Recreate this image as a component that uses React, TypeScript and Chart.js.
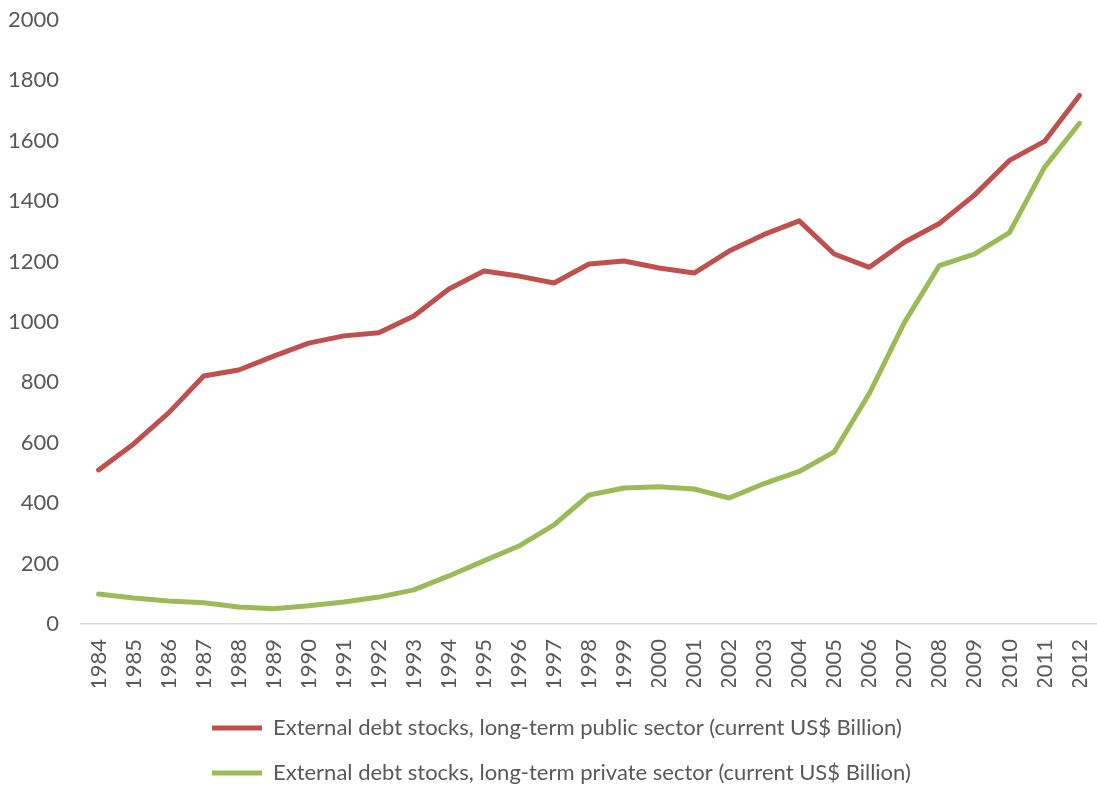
import React, { useEffect, useRef } from "react";
import { Chart, registerables } from "chart.js";

Chart.register(...registerables);

const years = [
  "1984","1985","1986","1987","1988","1989","1990","1991","1992","1993",
  "1994","1995","1996","1997","1998","1999","2000","2001","2002","2003",
  "2004","2005","2006","2007","2008","2009","2010","2011","2012",
];

const publicSector = [
  510, 596, 699, 821, 841, 887, 930, 954, 964, 1020,
  1109, 1169, 1152, 1129, 1192, 1202, 1179, 1162, 1235, 1290,
  1335, 1225, 1181, 1264, 1326, 1420, 1535, 1598, 1750,
];

const privateSector = [
  99, 86, 76, 70, 56, 50, 60, 73, 89, 113,
  159, 209, 258, 328, 427, 450, 454, 447, 417, 465,
  505, 570, 763, 998, 1187, 1225, 1296, 1512, 1658,
];

const seriesNames = [
  "External debt stocks, long-term public sector (current US$ Billion)",
  "External debt stocks, long-term private sector (current US$ Billion)",
];

const yMin = 0;
const yMax = 2000;
const yStep = 200;

const FONT = "Lato, 'Open Sans', sans-serif";
const TEXT = "#595959";

export default function App() {
  const ref = useRef<HTMLCanvasElement | null>(null);

  useEffect(() => {
    document.body.style.margin = "0";
    const canvas = ref.current;
    if (!canvas) return;
    const legendShift = {
      id: "legendShift",
      afterLayout(chart: any) {
        const lg = chart.legend;
        if (lg) {
          lg.top += 7;
          lg.bottom += 7;
          lg.left += 181;
          lg.right += 181;
        }
      },
    };
    const chart = new Chart(canvas, {
      type: "line",
      data: {
        labels: years,
        datasets: [
          {
            label: seriesNames[0],
            data: publicSector,
            borderColor: "#C0504D",
            backgroundColor: "#C0504D",
            borderWidth: 5,
            pointRadius: 0,
            tension: 0,
            borderCapStyle: "round",
            borderJoinStyle: "round",
          },
          {
            label: seriesNames[1],
            data: privateSector,
            borderColor: "#9BBB59",
            backgroundColor: "#9BBB59",
            borderWidth: 5,
            pointRadius: 0,
            tension: 0,
            borderCapStyle: "round",
            borderJoinStyle: "round",
          },
        ],
      },
      options: {
        responsive: false,
        animation: false,
        maintainAspectRatio: false,
        layout: { padding: { top: 20, left: 8, right: 0, bottom: 0 } },
        plugins: {
          tooltip: { enabled: false },
          legend: {
            position: "bottom",
            align: "start",
            labels: {
              color: TEXT,
              font: { family: FONT, size: 22 },
              boxWidth: 50,
              boxHeight: 5,
              padding: 23,
              generateLabels: (c: any) =>
                c.data.datasets.map((ds: any, i: number) => ({
                  text: ds.label,
                  fillStyle: ds.borderColor,
                  strokeStyle: ds.borderColor,
                  lineWidth: 0,
                  hidden: false,
                  datasetIndex: i,
                  fontColor: TEXT,
                })),
            },
          },
        },
        scales: {
          x: {
            offset: true,
            grid: { display: false, drawTicks: false },
            border: { display: true, color: "#D9D9D9", width: 1.5 },
            afterFit: (s: any) => {
              s.paddingLeft = 0;
              s.paddingRight = 0;
              s.height -= 18;
            },
            ticks: {
              color: TEXT,
              font: { family: FONT, size: 22 },
              minRotation: 90,
              maxRotation: 90,
              padding: 15,
              autoSkip: false,
            },
          },
          y: {
            min: yMin,
            max: yMax,
            grid: { display: false, drawTicks: false },
            border: { display: false },
            afterFit: (s: any) => {
              s.paddingTop = 0;
              s.width -= 22;
            },
            ticks: {
              stepSize: yStep,
              color: TEXT,
              font: { family: FONT, size: 22 },
              padding: 22,
              callback: (v: any) => String(v),
            },
          },
        },
      },
      plugins: [legendShift],
    });
    return () => chart.destroy();
  }, []);

  return (
    <div style={{ width: 1097, height: 787 }}>
      <canvas ref={ref} width={1097} height={787} style={{ display: "block" }} />
    </div>
  );
}
